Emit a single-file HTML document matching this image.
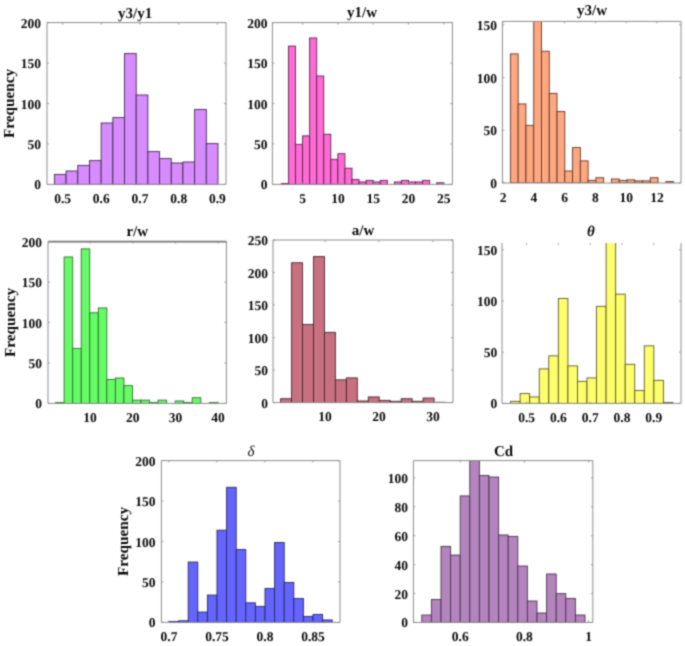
<!DOCTYPE html>
<html><head><meta charset="utf-8"><style>
html,body{margin:0;padding:0;background:#fff;width:685px;height:646px;overflow:hidden}
svg{display:block}
text{text-rendering:geometricPrecision}
text{font-family:"Liberation Serif",serif;font-weight:bold;font-size:13.5px;fill:#080808}
</style></head><body>
<svg width="685" height="646" viewBox="0 0 685 646">
<defs><filter id="bl" x="0" y="0" width="685" height="646" filterUnits="userSpaceOnUse" color-interpolation-filters="sRGB"><feConvolveMatrix order="3" kernelMatrix="1 3 1 3 9 3 1 3 1" divisor="25" preserveAlpha="false" edgeMode="duplicate"/></filter></defs>
<g filter="url(#bl)">
<rect width="685" height="646" fill="#fff"/>
<clipPath id="c0"><rect x="47" y="22.6" width="179" height="161.8"/></clipPath><g clip-path="url(#c0)">
<rect x="54.4" y="174.4" width="11.69" height="10" fill="#d68cff" stroke="#402a4c" stroke-width="0.9"/>
<rect x="66.09" y="171" width="11.69" height="13.4" fill="#d68cff" stroke="#402a4c" stroke-width="0.9"/>
<rect x="77.77" y="165.4" width="11.69" height="19" fill="#d68cff" stroke="#402a4c" stroke-width="0.9"/>
<rect x="89.46" y="160.6" width="11.69" height="23.8" fill="#d68cff" stroke="#402a4c" stroke-width="0.9"/>
<rect x="101.14" y="123" width="11.69" height="61.4" fill="#d68cff" stroke="#402a4c" stroke-width="0.9"/>
<rect x="112.83" y="117.6" width="11.69" height="66.8" fill="#d68cff" stroke="#402a4c" stroke-width="0.9"/>
<rect x="124.51" y="53.6" width="11.69" height="130.8" fill="#d68cff" stroke="#402a4c" stroke-width="0.9"/>
<rect x="136.2" y="95" width="11.69" height="89.4" fill="#d68cff" stroke="#402a4c" stroke-width="0.9"/>
<rect x="147.89" y="151.6" width="11.69" height="32.8" fill="#d68cff" stroke="#402a4c" stroke-width="0.9"/>
<rect x="159.57" y="158.6" width="11.69" height="25.8" fill="#d68cff" stroke="#402a4c" stroke-width="0.9"/>
<rect x="171.26" y="163" width="11.69" height="21.4" fill="#d68cff" stroke="#402a4c" stroke-width="0.9"/>
<rect x="182.94" y="162" width="11.69" height="22.4" fill="#d68cff" stroke="#402a4c" stroke-width="0.9"/>
<rect x="194.63" y="109.4" width="11.69" height="75" fill="#d68cff" stroke="#402a4c" stroke-width="0.9"/>
<rect x="206.31" y="143.6" width="11.69" height="40.8" fill="#d68cff" stroke="#402a4c" stroke-width="0.9"/>
</g>
<path d="M47 184.4V22.6H226V184.4Z" fill="none" stroke="#8c8c8c" stroke-width="1"/>
<path d="M47 184.4h2M226 184.4h-2M47 143.95h2M226 143.95h-2M47 103.5h2M226 103.5h-2M47 63.05h2M226 63.05h-2M47 22.6h2M226 22.6h-2M62.6 184.4v-2M62.6 22.6v2M101.3 184.4v-2M101.3 22.6v2M140 184.4v-2M140 22.6v2M178.7 184.4v-2M178.7 22.6v2M217.4 184.4v-2M217.4 22.6v2" stroke="#8c8c8c" stroke-width="0.8" fill="none"/>
<text x="41" y="189.4" text-anchor="end">0</text>
<text x="41" y="148.95" text-anchor="end">50</text>
<text x="41" y="108.5" text-anchor="end">100</text>
<text x="41" y="68.05" text-anchor="end">150</text>
<text x="41" y="27.6" text-anchor="end">200</text>
<text x="62.6" y="202.9" text-anchor="middle">0.5</text>
<text x="101.3" y="202.9" text-anchor="middle">0.6</text>
<text x="140" y="202.9" text-anchor="middle">0.7</text>
<text x="178.7" y="202.9" text-anchor="middle">0.8</text>
<text x="217.4" y="202.9" text-anchor="middle">0.9</text>
<text x="135.2" y="18" text-anchor="middle" style="font-size:15px">y3/y1</text>
<text transform="translate(13.8 103.5) rotate(-90)" text-anchor="middle" style="font-size:15.25px">Frequency</text>
<clipPath id="c1"><rect x="272.4" y="22.6" width="180" height="161.8"/></clipPath><g clip-path="url(#c1)">
<rect x="281.4" y="183.59" width="7.06" height="0.81" fill="#ff6ad5" stroke="#59254a" stroke-width="0.9"/>
<rect x="288.46" y="46.06" width="7.06" height="138.34" fill="#ff6ad5" stroke="#59254a" stroke-width="0.9"/>
<rect x="295.52" y="144.35" width="7.06" height="40.05" fill="#ff6ad5" stroke="#59254a" stroke-width="0.9"/>
<rect x="302.58" y="135.86" width="7.06" height="48.54" fill="#ff6ad5" stroke="#59254a" stroke-width="0.9"/>
<rect x="309.64" y="37.97" width="7.06" height="146.43" fill="#ff6ad5" stroke="#59254a" stroke-width="0.9"/>
<rect x="316.7" y="75.99" width="7.06" height="108.41" fill="#ff6ad5" stroke="#59254a" stroke-width="0.9"/>
<rect x="323.76" y="134.24" width="7.06" height="50.16" fill="#ff6ad5" stroke="#59254a" stroke-width="0.9"/>
<rect x="330.82" y="159.32" width="7.06" height="25.08" fill="#ff6ad5" stroke="#59254a" stroke-width="0.9"/>
<rect x="337.88" y="153.66" width="7.06" height="30.74" fill="#ff6ad5" stroke="#59254a" stroke-width="0.9"/>
<rect x="344.94" y="168.22" width="7.06" height="16.18" fill="#ff6ad5" stroke="#59254a" stroke-width="0.9"/>
<rect x="352" y="179.55" width="7.06" height="4.85" fill="#ff6ad5" stroke="#59254a" stroke-width="0.9"/>
<rect x="359.06" y="181.97" width="7.06" height="2.43" fill="#ff6ad5" stroke="#59254a" stroke-width="0.9"/>
<rect x="366.12" y="180.36" width="7.06" height="4.04" fill="#ff6ad5" stroke="#59254a" stroke-width="0.9"/>
<rect x="373.18" y="181.97" width="7.06" height="2.43" fill="#ff6ad5" stroke="#59254a" stroke-width="0.9"/>
<rect x="380.24" y="180.36" width="7.06" height="4.04" fill="#ff6ad5" stroke="#59254a" stroke-width="0.9"/>
<rect x="394.36" y="181.97" width="7.06" height="2.43" fill="#ff6ad5" stroke="#59254a" stroke-width="0.9"/>
<rect x="401.42" y="180.36" width="7.06" height="4.04" fill="#ff6ad5" stroke="#59254a" stroke-width="0.9"/>
<rect x="408.48" y="181.97" width="7.06" height="2.43" fill="#ff6ad5" stroke="#59254a" stroke-width="0.9"/>
<rect x="415.54" y="181.97" width="7.06" height="2.43" fill="#ff6ad5" stroke="#59254a" stroke-width="0.9"/>
<rect x="422.6" y="180.36" width="7.06" height="4.04" fill="#ff6ad5" stroke="#59254a" stroke-width="0.9"/>
<rect x="436.72" y="182.78" width="7.06" height="1.62" fill="#ff6ad5" stroke="#59254a" stroke-width="0.9"/>
</g>
<path d="M272.4 184.4V22.6H452.4V184.4Z" fill="none" stroke="#8c8c8c" stroke-width="1"/>
<path d="M272.4 184.4h2M452.4 184.4h-2M272.4 143.95h2M452.4 143.95h-2M272.4 103.5h2M452.4 103.5h-2M272.4 63.05h2M452.4 63.05h-2M272.4 22.6h2M452.4 22.6h-2M302.6 184.4v-2M302.6 22.6v2M337.9 184.4v-2M337.9 22.6v2M373.2 184.4v-2M373.2 22.6v2M408.5 184.4v-2M408.5 22.6v2M443.8 184.4v-2M443.8 22.6v2" stroke="#8c8c8c" stroke-width="0.8" fill="none"/>
<text x="267.4" y="189.4" text-anchor="end">0</text>
<text x="267.4" y="148.95" text-anchor="end">50</text>
<text x="267.4" y="108.5" text-anchor="end">100</text>
<text x="267.4" y="68.05" text-anchor="end">150</text>
<text x="267.4" y="27.6" text-anchor="end">200</text>
<text x="302.6" y="202.9" text-anchor="middle">5</text>
<text x="337.9" y="202.9" text-anchor="middle">10</text>
<text x="373.2" y="202.9" text-anchor="middle">15</text>
<text x="408.5" y="202.9" text-anchor="middle">20</text>
<text x="443.8" y="202.9" text-anchor="middle">25</text>
<text x="362" y="17" text-anchor="middle" style="font-size:15px">y1/w</text>
<clipPath id="c2"><rect x="502.4" y="21.4" width="178.6" height="161.6"/></clipPath><g clip-path="url(#c2)">
<rect x="510.4" y="53.88" width="7.77" height="129.12" fill="#ffa77f" stroke="#593a2c" stroke-width="0.9"/>
<rect x="518.17" y="103.95" width="7.77" height="79.05" fill="#ffa77f" stroke="#593a2c" stroke-width="0.9"/>
<rect x="525.94" y="125.35" width="7.77" height="57.65" fill="#ffa77f" stroke="#593a2c" stroke-width="0.9"/>
<rect x="533.71" y="18.4" width="7.77" height="164.6" fill="#ffa77f" stroke="#593a2c" stroke-width="0.9"/>
<rect x="541.49" y="51.25" width="7.77" height="131.75" fill="#ffa77f" stroke="#593a2c" stroke-width="0.9"/>
<rect x="549.26" y="93.41" width="7.77" height="89.59" fill="#ffa77f" stroke="#593a2c" stroke-width="0.9"/>
<rect x="557.03" y="111.54" width="7.77" height="71.46" fill="#ffa77f" stroke="#593a2c" stroke-width="0.9"/>
<rect x="564.8" y="170.98" width="7.77" height="12.02" fill="#ffa77f" stroke="#593a2c" stroke-width="0.9"/>
<rect x="572.57" y="147.59" width="7.77" height="35.41" fill="#ffa77f" stroke="#593a2c" stroke-width="0.9"/>
<rect x="580.34" y="160.87" width="7.77" height="22.13" fill="#ffa77f" stroke="#593a2c" stroke-width="0.9"/>
<rect x="588.11" y="180.37" width="7.77" height="2.63" fill="#ffa77f" stroke="#593a2c" stroke-width="0.9"/>
<rect x="595.89" y="177.73" width="7.77" height="5.27" fill="#ffa77f" stroke="#593a2c" stroke-width="0.9"/>
<rect x="611.43" y="178.99" width="7.77" height="4.01" fill="#ffa77f" stroke="#593a2c" stroke-width="0.9"/>
<rect x="619.2" y="180.37" width="7.77" height="2.63" fill="#ffa77f" stroke="#593a2c" stroke-width="0.9"/>
<rect x="626.97" y="179.84" width="7.77" height="3.16" fill="#ffa77f" stroke="#593a2c" stroke-width="0.9"/>
<rect x="634.74" y="180.89" width="7.77" height="2.11" fill="#ffa77f" stroke="#593a2c" stroke-width="0.9"/>
<rect x="642.51" y="180.89" width="7.77" height="2.11" fill="#ffa77f" stroke="#593a2c" stroke-width="0.9"/>
<rect x="650.29" y="177.73" width="7.77" height="5.27" fill="#ffa77f" stroke="#593a2c" stroke-width="0.9"/>
<rect x="665.83" y="181.63" width="7.77" height="1.37" fill="#ffa77f" stroke="#593a2c" stroke-width="0.9"/>
</g>
<path d="M502.4 183V21.4H681V183Z" fill="none" stroke="#8c8c8c" stroke-width="1"/>
<path d="M502.4 183h2M681 183h-2M502.4 130.3h2M681 130.3h-2M502.4 77.6h2M681 77.6h-2M502.4 24.9h2M681 24.9h-2M503 183v-2M503 21.4v2M533.8 183v-2M533.8 21.4v2M564.6 183v-2M564.6 21.4v2M595.4 183v-2M595.4 21.4v2M626.2 183v-2M626.2 21.4v2M657 183v-2M657 21.4v2" stroke="#8c8c8c" stroke-width="0.8" fill="none"/>
<text x="497.1" y="188" text-anchor="end">0</text>
<text x="497.1" y="135.3" text-anchor="end">50</text>
<text x="497.1" y="82.6" text-anchor="end">100</text>
<text x="497.1" y="29.9" text-anchor="end">150</text>
<text x="503" y="201.5" text-anchor="middle">2</text>
<text x="533.8" y="201.5" text-anchor="middle">4</text>
<text x="564.6" y="201.5" text-anchor="middle">6</text>
<text x="595.4" y="201.5" text-anchor="middle">8</text>
<text x="626.2" y="201.5" text-anchor="middle">10</text>
<text x="657" y="201.5" text-anchor="middle">12</text>
<text x="592" y="14.5" text-anchor="middle" style="font-size:15px">y3/w</text>
<clipPath id="c3"><rect x="48" y="241.6" width="178.4" height="161.8"/></clipPath><g clip-path="url(#c3)">
<rect x="55.6" y="402.59" width="8.54" height="0.81" fill="#66fc66" stroke="#2d712d" stroke-width="0.9"/>
<rect x="64.14" y="256.97" width="8.54" height="146.43" fill="#66fc66" stroke="#2d712d" stroke-width="0.9"/>
<rect x="72.68" y="348.39" width="8.54" height="55.01" fill="#66fc66" stroke="#2d712d" stroke-width="0.9"/>
<rect x="81.22" y="248.88" width="8.54" height="154.52" fill="#66fc66" stroke="#2d712d" stroke-width="0.9"/>
<rect x="89.76" y="312.79" width="8.54" height="90.61" fill="#66fc66" stroke="#2d712d" stroke-width="0.9"/>
<rect x="98.3" y="307.94" width="8.54" height="95.46" fill="#66fc66" stroke="#2d712d" stroke-width="0.9"/>
<rect x="106.84" y="379.53" width="8.54" height="23.87" fill="#66fc66" stroke="#2d712d" stroke-width="0.9"/>
<rect x="115.38" y="378" width="8.54" height="25.4" fill="#66fc66" stroke="#2d712d" stroke-width="0.9"/>
<rect x="123.92" y="385.6" width="8.54" height="17.8" fill="#66fc66" stroke="#2d712d" stroke-width="0.9"/>
<rect x="132.46" y="400.16" width="8.54" height="3.24" fill="#66fc66" stroke="#2d712d" stroke-width="0.9"/>
<rect x="141" y="400.16" width="8.54" height="3.24" fill="#66fc66" stroke="#2d712d" stroke-width="0.9"/>
<rect x="149.54" y="402.59" width="8.54" height="0.81" fill="#66fc66" stroke="#2d712d" stroke-width="0.9"/>
<rect x="158.08" y="400.16" width="8.54" height="3.24" fill="#66fc66" stroke="#2d712d" stroke-width="0.9"/>
<rect x="175.16" y="400.97" width="8.54" height="2.43" fill="#66fc66" stroke="#2d712d" stroke-width="0.9"/>
<rect x="183.7" y="402.59" width="8.54" height="0.81" fill="#66fc66" stroke="#2d712d" stroke-width="0.9"/>
<rect x="192.24" y="397.74" width="8.54" height="5.66" fill="#66fc66" stroke="#2d712d" stroke-width="0.9"/>
<rect x="209.32" y="402.59" width="8.54" height="0.81" fill="#66fc66" stroke="#2d712d" stroke-width="0.9"/>
</g>
<path d="M48 403.4V241.6H226.4V403.4Z" fill="none" stroke="#8c8c8c" stroke-width="1"/>
<path d="M48 241.6H226.4" stroke="#777" stroke-width="1.6" fill="none"/>
<path d="M48 403.4h2M226.4 403.4h-2M48 362.95h2M226.4 362.95h-2M48 322.5h2M226.4 322.5h-2M48 282.05h2M226.4 282.05h-2M48 241.6h2M226.4 241.6h-2M90 403.4v-2M90 241.6v2M132.7 403.4v-2M132.7 241.6v2M175.4 403.4v-2M175.4 241.6v2M218.1 403.4v-2M218.1 241.6v2" stroke="#8c8c8c" stroke-width="0.8" fill="none"/>
<text x="42" y="408.4" text-anchor="end">0</text>
<text x="42" y="367.95" text-anchor="end">50</text>
<text x="42" y="327.5" text-anchor="end">100</text>
<text x="42" y="287.05" text-anchor="end">150</text>
<text x="42" y="246.6" text-anchor="end">200</text>
<text x="90" y="421.9" text-anchor="middle">10</text>
<text x="132.7" y="421.9" text-anchor="middle">20</text>
<text x="175.4" y="421.9" text-anchor="middle">30</text>
<text x="218.1" y="421.9" text-anchor="middle">40</text>
<text x="137.3" y="235.8" text-anchor="middle" style="font-size:15px">r/w</text>
<text transform="translate(14.8 322.5) rotate(-90)" text-anchor="middle" style="font-size:15.25px">Frequency</text>
<clipPath id="c4"><rect x="273" y="240" width="180" height="162.6"/></clipPath><g clip-path="url(#c4)">
<rect x="280.6" y="398.7" width="10.96" height="3.9" fill="#c87080" stroke="#46272c" stroke-width="0.9"/>
<rect x="291.56" y="262.76" width="10.96" height="139.84" fill="#c87080" stroke="#46272c" stroke-width="0.9"/>
<rect x="302.52" y="324.55" width="10.96" height="78.05" fill="#c87080" stroke="#46272c" stroke-width="0.9"/>
<rect x="313.48" y="256.59" width="10.96" height="146.01" fill="#c87080" stroke="#46272c" stroke-width="0.9"/>
<rect x="324.44" y="332.36" width="10.96" height="70.24" fill="#c87080" stroke="#46272c" stroke-width="0.9"/>
<rect x="335.4" y="379.84" width="10.96" height="22.76" fill="#c87080" stroke="#46272c" stroke-width="0.9"/>
<rect x="346.36" y="377.88" width="10.96" height="24.72" fill="#c87080" stroke="#46272c" stroke-width="0.9"/>
<rect x="357.32" y="400.97" width="10.96" height="1.63" fill="#c87080" stroke="#46272c" stroke-width="0.9"/>
<rect x="368.28" y="396.94" width="10.96" height="5.66" fill="#c87080" stroke="#46272c" stroke-width="0.9"/>
<rect x="379.24" y="400.39" width="10.96" height="2.21" fill="#c87080" stroke="#46272c" stroke-width="0.9"/>
<rect x="390.2" y="401.3" width="10.96" height="1.3" fill="#c87080" stroke="#46272c" stroke-width="0.9"/>
<rect x="401.16" y="398.7" width="10.96" height="3.9" fill="#c87080" stroke="#46272c" stroke-width="0.9"/>
<rect x="412.12" y="401.3" width="10.96" height="1.3" fill="#c87080" stroke="#46272c" stroke-width="0.9"/>
<rect x="423.08" y="398.05" width="10.96" height="4.55" fill="#c87080" stroke="#46272c" stroke-width="0.9"/>
<rect x="434.04" y="402.27" width="10.96" height="0.33" fill="#c87080" stroke="#46272c" stroke-width="0.9"/>
</g>
<path d="M273 402.6V240H453V402.6Z" fill="none" stroke="#8c8c8c" stroke-width="1"/>
<path d="M273 402.6h2M453 402.6h-2M273 370.08h2M453 370.08h-2M273 337.56h2M453 337.56h-2M273 305.04h2M453 305.04h-2M273 272.52h2M453 272.52h-2M273 240h2M453 240h-2M325 402.6v-2M325 240v2M379 402.6v-2M379 240v2M433 402.6v-2M433 240v2" stroke="#8c8c8c" stroke-width="0.8" fill="none"/>
<text x="268" y="407.6" text-anchor="end">0</text>
<text x="268" y="375.08" text-anchor="end">50</text>
<text x="268" y="342.56" text-anchor="end">100</text>
<text x="268" y="310.04" text-anchor="end">150</text>
<text x="268" y="277.52" text-anchor="end">200</text>
<text x="268" y="245" text-anchor="end">250</text>
<text x="325" y="421.1" text-anchor="middle">10</text>
<text x="379" y="421.1" text-anchor="middle">20</text>
<text x="433" y="421.1" text-anchor="middle">30</text>
<text x="363" y="235" text-anchor="middle" style="font-size:15px">a/w</text>
<clipPath id="c5"><rect x="502" y="243" width="179" height="160.4"/></clipPath><g clip-path="url(#c5)">
<rect x="510.6" y="401.35" width="9.55" height="2.05" fill="#ffff6e" stroke="#595926" stroke-width="0.9"/>
<rect x="520.15" y="393.57" width="9.55" height="9.83" fill="#ffff6e" stroke="#595926" stroke-width="0.9"/>
<rect x="529.7" y="396.95" width="9.55" height="6.45" fill="#ffff6e" stroke="#595926" stroke-width="0.9"/>
<rect x="539.25" y="368.89" width="9.55" height="34.51" fill="#ffff6e" stroke="#595926" stroke-width="0.9"/>
<rect x="548.8" y="355.89" width="9.55" height="47.51" fill="#ffff6e" stroke="#595926" stroke-width="0.9"/>
<rect x="558.35" y="298.44" width="9.55" height="104.96" fill="#ffff6e" stroke="#595926" stroke-width="0.9"/>
<rect x="567.9" y="365.92" width="9.55" height="37.48" fill="#ffff6e" stroke="#595926" stroke-width="0.9"/>
<rect x="577.45" y="381.38" width="9.55" height="22.02" fill="#ffff6e" stroke="#595926" stroke-width="0.9"/>
<rect x="587" y="377.9" width="9.55" height="25.5" fill="#ffff6e" stroke="#595926" stroke-width="0.9"/>
<rect x="596.55" y="306.32" width="9.55" height="97.08" fill="#ffff6e" stroke="#595926" stroke-width="0.9"/>
<rect x="606.1" y="240" width="9.55" height="163.4" fill="#ffff6e" stroke="#595926" stroke-width="0.9"/>
<rect x="615.65" y="294.14" width="9.55" height="109.26" fill="#ffff6e" stroke="#595926" stroke-width="0.9"/>
<rect x="625.2" y="364.28" width="9.55" height="39.12" fill="#ffff6e" stroke="#595926" stroke-width="0.9"/>
<rect x="634.75" y="390.6" width="9.55" height="12.8" fill="#ffff6e" stroke="#595926" stroke-width="0.9"/>
<rect x="644.3" y="345.85" width="9.55" height="57.55" fill="#ffff6e" stroke="#595926" stroke-width="0.9"/>
<rect x="653.85" y="380.36" width="9.55" height="23.04" fill="#ffff6e" stroke="#595926" stroke-width="0.9"/>
<rect x="663.4" y="402.58" width="9.55" height="0.82" fill="#ffff6e" stroke="#595926" stroke-width="0.9"/>
</g>
<path d="M502 243V403.4H681V243" fill="none" stroke="#8c8c8c" stroke-width="1"/>
<path d="M502 403.4h2M681 403.4h-2M502 352.2h2M681 352.2h-2M502 301h2M681 301h-2M502 249.8h2M681 249.8h-2M526.6 403.4v-2M526.6 243v2M558.4 403.4v-2M558.4 243v2M590.2 403.4v-2M590.2 243v2M622 403.4v-2M622 243v2M653.8 403.4v-2M653.8 243v2" stroke="#8c8c8c" stroke-width="0.8" fill="none"/>
<text x="497.3" y="408.4" text-anchor="end">0</text>
<text x="497.3" y="357.2" text-anchor="end">50</text>
<text x="497.3" y="306" text-anchor="end">100</text>
<text x="497.3" y="254.8" text-anchor="end">150</text>
<text x="526.6" y="421.9" text-anchor="middle">0.5</text>
<text x="558.4" y="421.9" text-anchor="middle">0.6</text>
<text x="590.2" y="421.9" text-anchor="middle">0.7</text>
<text x="622" y="421.9" text-anchor="middle">0.8</text>
<text x="653.8" y="421.9" text-anchor="middle">0.9</text>
<text x="591" y="235.6" text-anchor="middle" style="font-size:15px;font-style:italic">θ</text>
<clipPath id="c6"><rect x="161.4" y="460.6" width="178.6" height="161.8"/></clipPath><g clip-path="url(#c6)">
<rect x="169" y="621.59" width="9.6" height="0.81" fill="#6464ff" stroke="#282866" stroke-width="0.9"/>
<rect x="178.6" y="620.78" width="9.6" height="1.62" fill="#6464ff" stroke="#282866" stroke-width="0.9"/>
<rect x="188.2" y="562.05" width="9.6" height="60.35" fill="#6464ff" stroke="#282866" stroke-width="0.9"/>
<rect x="197.8" y="612.04" width="9.6" height="10.36" fill="#6464ff" stroke="#282866" stroke-width="0.9"/>
<rect x="207.4" y="595.06" width="9.6" height="27.34" fill="#6464ff" stroke="#282866" stroke-width="0.9"/>
<rect x="217" y="530.17" width="9.6" height="92.23" fill="#6464ff" stroke="#282866" stroke-width="0.9"/>
<rect x="226.6" y="487.3" width="9.6" height="135.1" fill="#6464ff" stroke="#282866" stroke-width="0.9"/>
<rect x="236.2" y="549.59" width="9.6" height="72.81" fill="#6464ff" stroke="#282866" stroke-width="0.9"/>
<rect x="245.8" y="602.82" width="9.6" height="19.58" fill="#6464ff" stroke="#282866" stroke-width="0.9"/>
<rect x="255.4" y="606.38" width="9.6" height="16.02" fill="#6464ff" stroke="#282866" stroke-width="0.9"/>
<rect x="265" y="588.42" width="9.6" height="33.98" fill="#6464ff" stroke="#282866" stroke-width="0.9"/>
<rect x="274.6" y="542.47" width="9.6" height="79.93" fill="#6464ff" stroke="#282866" stroke-width="0.9"/>
<rect x="284.2" y="582.44" width="9.6" height="39.96" fill="#6464ff" stroke="#282866" stroke-width="0.9"/>
<rect x="293.8" y="598.45" width="9.6" height="23.95" fill="#6464ff" stroke="#282866" stroke-width="0.9"/>
<rect x="303.4" y="616.41" width="9.6" height="5.99" fill="#6464ff" stroke="#282866" stroke-width="0.9"/>
<rect x="313" y="614.39" width="9.6" height="8.01" fill="#6464ff" stroke="#282866" stroke-width="0.9"/>
<rect x="322.6" y="619.97" width="9.6" height="2.43" fill="#6464ff" stroke="#282866" stroke-width="0.9"/>
</g>
<path d="M161.4 622.4V460.6H340V622.4Z" fill="none" stroke="#8c8c8c" stroke-width="1"/>
<path d="M161.4 622.4h2M340 622.4h-2M161.4 581.95h2M340 581.95h-2M161.4 541.5h2M340 541.5h-2M161.4 501.05h2M340 501.05h-2M161.4 460.6h2M340 460.6h-2M169 622.4v-2M169 460.6v2M217 622.4v-2M217 460.6v2M265 622.4v-2M265 460.6v2M313 622.4v-2M313 460.6v2" stroke="#8c8c8c" stroke-width="0.8" fill="none"/>
<text x="155.4" y="627.4" text-anchor="end">0</text>
<text x="155.4" y="586.95" text-anchor="end">50</text>
<text x="155.4" y="546.5" text-anchor="end">100</text>
<text x="155.4" y="506.05" text-anchor="end">150</text>
<text x="155.4" y="465.6" text-anchor="end">200</text>
<text x="169" y="640.9" text-anchor="middle">0.7</text>
<text x="217" y="640.9" text-anchor="middle">0.75</text>
<text x="265" y="640.9" text-anchor="middle">0.8</text>
<text x="313" y="640.9" text-anchor="middle">0.85</text>
<text x="251" y="456" text-anchor="middle" style="font-size:15px;font-style:italic;font-weight:normal">δ</text>
<text transform="translate(127.8 541.5) rotate(-90)" text-anchor="middle" style="font-size:15.25px">Frequency</text>
<clipPath id="c7"><rect x="413.4" y="460.6" width="179.4" height="161.8"/></clipPath><g clip-path="url(#c7)">
<rect x="421.8" y="615.03" width="9.6" height="7.37" fill="#b484be" stroke="#48344c" stroke-width="0.9"/>
<rect x="431.4" y="599.42" width="9.6" height="22.98" fill="#b484be" stroke="#48344c" stroke-width="0.9"/>
<rect x="441" y="546.39" width="9.6" height="76.01" fill="#b484be" stroke="#48344c" stroke-width="0.9"/>
<rect x="450.6" y="555.06" width="9.6" height="67.34" fill="#b484be" stroke="#48344c" stroke-width="0.9"/>
<rect x="460.2" y="495.96" width="9.6" height="126.44" fill="#b484be" stroke="#48344c" stroke-width="0.9"/>
<rect x="469.8" y="457.6" width="9.6" height="164.8" fill="#b484be" stroke="#48344c" stroke-width="0.9"/>
<rect x="479.4" y="475.44" width="9.6" height="146.96" fill="#b484be" stroke="#48344c" stroke-width="0.9"/>
<rect x="489" y="477.03" width="9.6" height="145.37" fill="#b484be" stroke="#48344c" stroke-width="0.9"/>
<rect x="498.6" y="534.98" width="9.6" height="87.42" fill="#b484be" stroke="#48344c" stroke-width="0.9"/>
<rect x="508.2" y="536.42" width="9.6" height="85.98" fill="#b484be" stroke="#48344c" stroke-width="0.9"/>
<rect x="517.8" y="566.04" width="9.6" height="56.36" fill="#b484be" stroke="#48344c" stroke-width="0.9"/>
<rect x="527.4" y="601.01" width="9.6" height="21.39" fill="#b484be" stroke="#48344c" stroke-width="0.9"/>
<rect x="537" y="613.01" width="9.6" height="9.39" fill="#b484be" stroke="#48344c" stroke-width="0.9"/>
<rect x="546.6" y="573.99" width="9.6" height="48.41" fill="#b484be" stroke="#48344c" stroke-width="0.9"/>
<rect x="556.2" y="593.64" width="9.6" height="28.76" fill="#b484be" stroke="#48344c" stroke-width="0.9"/>
<rect x="565.8" y="598.41" width="9.6" height="23.99" fill="#b484be" stroke="#48344c" stroke-width="0.9"/>
<rect x="575.4" y="615.03" width="9.6" height="7.37" fill="#b484be" stroke="#48344c" stroke-width="0.9"/>
</g>
<path d="M413.4 622.4V460.6H592.8V622.4Z" fill="none" stroke="#8c8c8c" stroke-width="1"/>
<path d="M413.4 622.4h2M592.8 622.4h-2M413.4 593.5h2M592.8 593.5h-2M413.4 564.6h2M592.8 564.6h-2M413.4 535.7h2M592.8 535.7h-2M413.4 506.8h2M592.8 506.8h-2M413.4 477.9h2M592.8 477.9h-2M460.2 622.4v-2M460.2 460.6v2M524.4 622.4v-2M524.4 460.6v2M588.6 622.4v-2M588.6 460.6v2" stroke="#8c8c8c" stroke-width="0.8" fill="none"/>
<text x="407.9" y="627.4" text-anchor="end">0</text>
<text x="407.9" y="598.5" text-anchor="end">20</text>
<text x="407.9" y="569.6" text-anchor="end">40</text>
<text x="407.9" y="540.7" text-anchor="end">60</text>
<text x="407.9" y="511.8" text-anchor="end">80</text>
<text x="407.9" y="482.9" text-anchor="end">100</text>
<text x="460.2" y="640.9" text-anchor="middle">0.6</text>
<text x="524.4" y="640.9" text-anchor="middle">0.8</text>
<text x="588.6" y="640.9" text-anchor="middle">1</text>
<text x="503.6" y="456" text-anchor="middle" style="font-size:15px">Cd</text>
</g>
</svg>
</body></html>
